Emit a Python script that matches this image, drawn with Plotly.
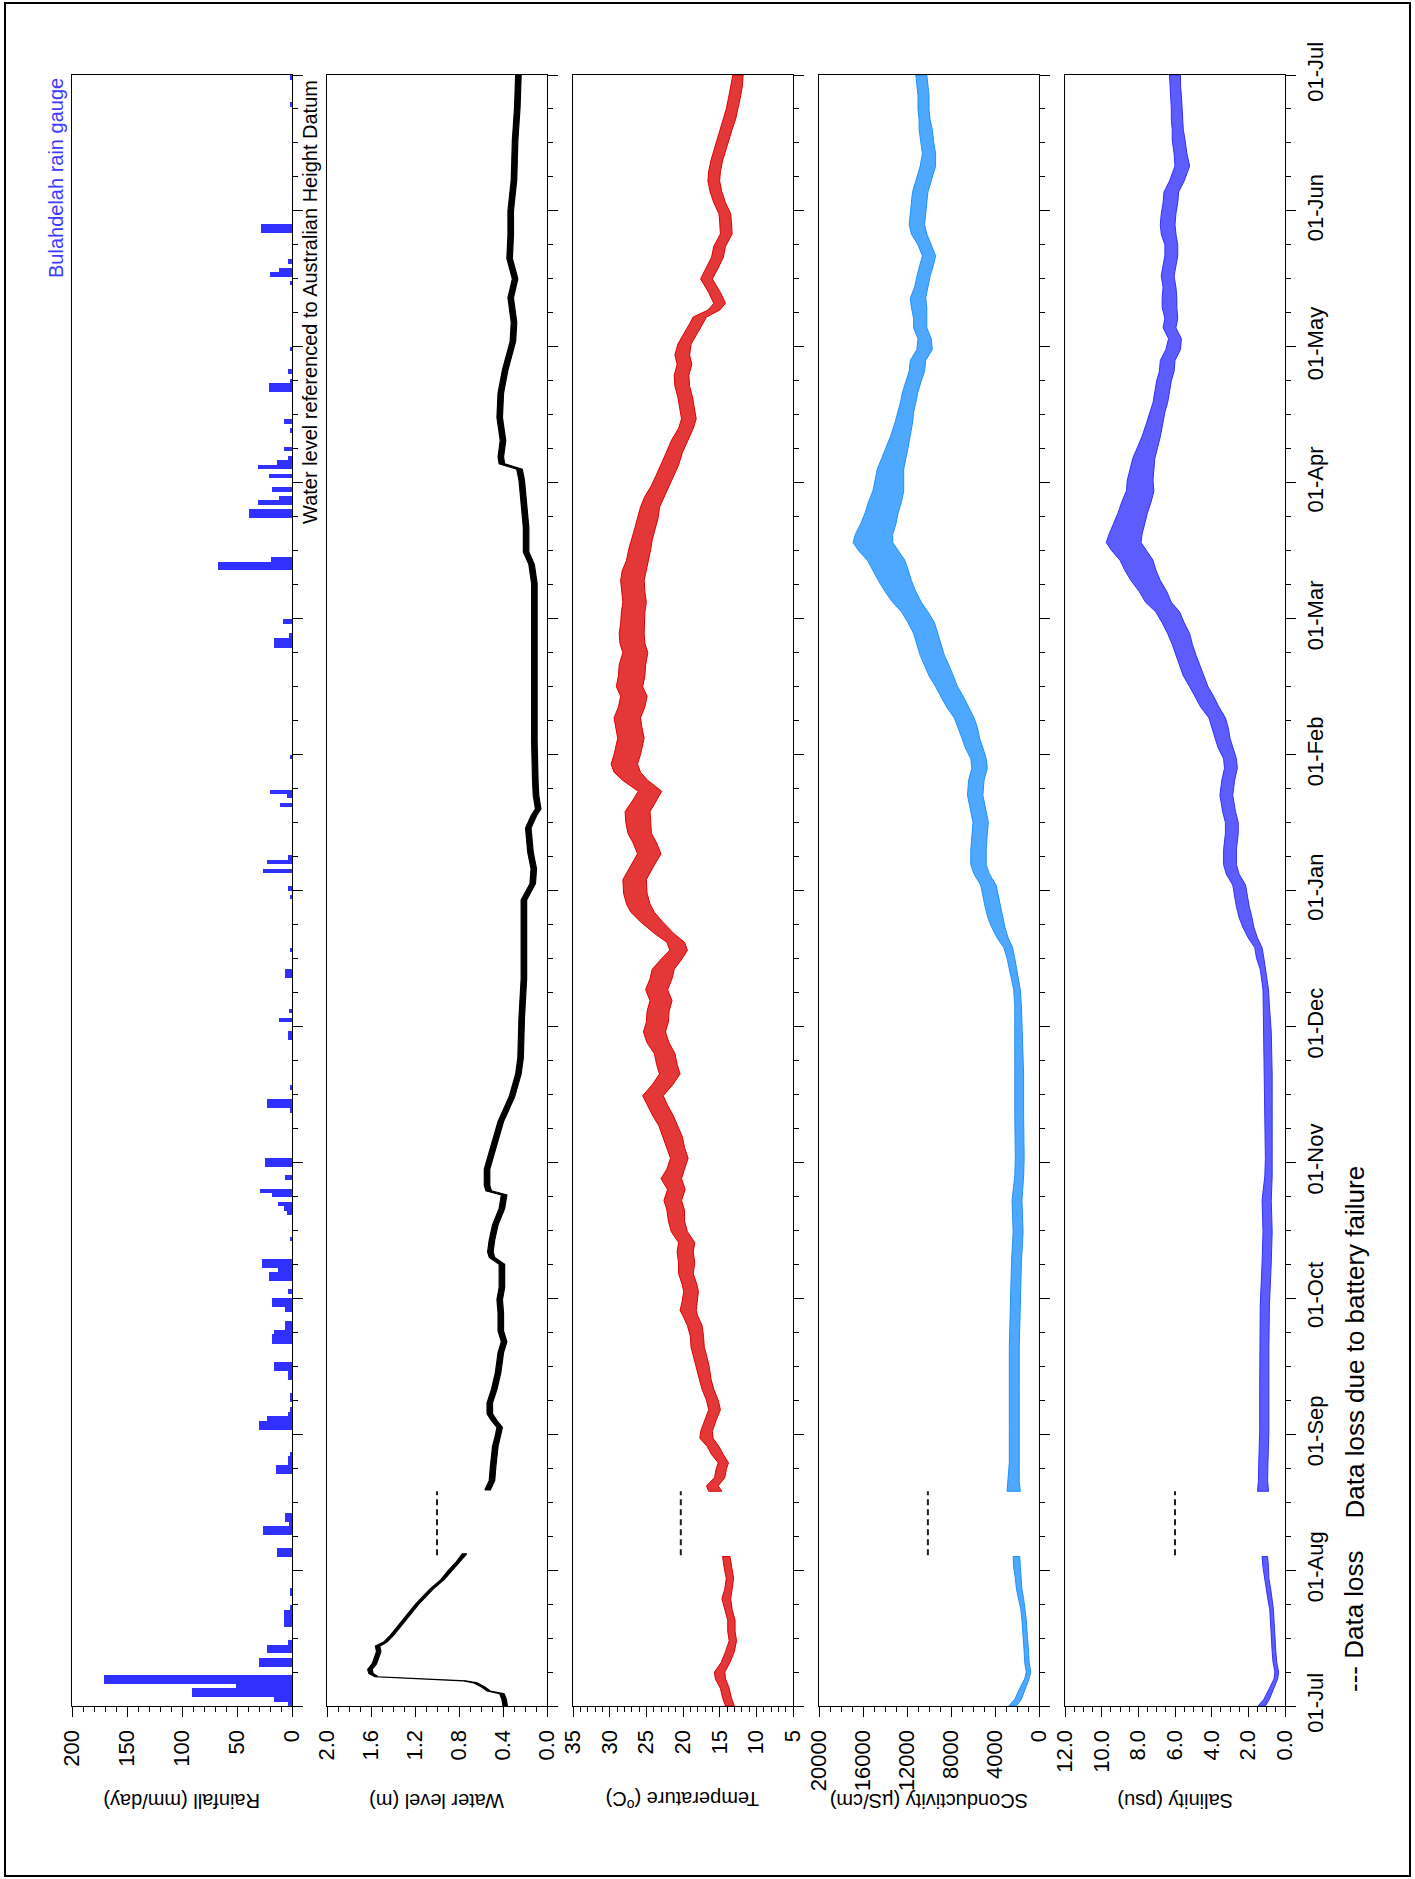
import calendar
import plotly.graph_objects as go

W, H = 1415, 1879

# ---------------- data ----------------
time_labels = ["01-Jul", "01-Aug", "01-Sep", "01-Oct", "01-Nov", "01-Dec", "01-Jan",
               "01-Feb", "01-Mar", "01-Apr", "01-May", "01-Jun", "01-Jul"]

rain_ticks = [200, 150, 100, 50, 0]
rain_labels = ["200", "150", "100", "50", "0"]
wl_ticks = [2.0, 1.6, 1.2, 0.8, 0.4, 0.0]
wl_labels = ["2.0", "1.6", "1.2", "0.8", "0.4", "0.0"]
temp_ticks = [35, 30, 25, 20, 15, 10, 5]
temp_labels = ["35", "30", "25", "20", "15", "10", "5"]
cond_ticks = [20000, 16000, 12000, 8000, 4000, 0]
cond_labels = ["20000", "16000", "12000", "8000", "4000", "0"]
sal_ticks = [12.0, 10.0, 8.0, 6.0, 4.0, 2.0, 0.0]
sal_labels = ["12.0", "10.0", "8.0", "6.0", "4.0", "2.0", "0.0"]

# daily rainfall, Bulahdelah rain gauge (mm/day)
rain_dates = [
    "2009-07-01", "2009-07-02", "2009-07-03", "2009-07-04", "2009-07-05", "2009-07-06", "2009-07-07",
    "2009-07-10", "2009-07-11", "2009-07-13", "2009-07-14", "2009-07-15", "2009-07-19", "2009-07-20",
    "2009-07-21", "2009-07-22", "2009-07-23", "2009-07-26", "2009-07-27",
    "2009-08-04", "2009-08-05", "2009-08-09", "2009-08-10", "2009-08-11", "2009-08-12", "2009-08-13",
    "2009-08-23", "2009-08-24", "2009-08-25", "2009-08-26", "2009-08-27",
    "2009-09-02", "2009-09-03", "2009-09-04", "2009-09-05", "2009-09-06", "2009-09-08", "2009-09-09",
    "2009-09-13", "2009-09-14", "2009-09-15", "2009-09-16", "2009-09-21", "2009-09-22", "2009-09-23",
    "2009-09-24", "2009-09-25", "2009-09-28", "2009-09-29", "2009-09-30",
    "2009-10-02", "2009-10-05", "2009-10-06", "2009-10-07", "2009-10-08", "2009-10-09", "2009-10-14",
    "2009-10-20", "2009-10-21", "2009-10-22", "2009-10-24", "2009-10-25", "2009-10-28", "2009-10-31",
    "2009-11-01", "2009-11-12", "2009-11-13", "2009-11-14", "2009-11-17", "2009-11-28", "2009-11-29",
    "2009-12-02", "2009-12-04", "2009-12-12", "2009-12-13", "2009-12-18", "2009-12-30",
    "2010-01-01", "2010-01-05", "2010-01-07", "2010-01-08", "2010-01-20", "2010-01-22", "2010-01-23",
    "2010-01-31",
    "2010-02-23", "2010-02-24", "2010-02-25", "2010-02-28",
    "2010-03-12", "2010-03-13", "2010-03-14", "2010-03-24", "2010-03-25", "2010-03-27", "2010-03-28",
    "2010-03-30",
    "2010-04-02", "2010-04-04", "2010-04-05", "2010-04-06", "2010-04-08", "2010-04-12", "2010-04-14",
    "2010-04-21", "2010-04-22", "2010-04-23", "2010-04-25", "2010-04-30",
    "2010-05-15", "2010-05-17", "2010-05-18", "2010-05-20", "2010-05-27", "2010-05-28",
    "2010-06-24", "2010-06-30",
]
rain_mm = [
    4, 16, 91, 91, 51, 171, 171,
    30, 30, 23, 23, 4, 7, 7,
    7, 7, 1.5, 1.5, 1.5,
    14, 14, 26, 26, 3, 6, 6,
    15, 15, 4, 4, 2,
    30, 30, 23, 4, 2, 2, 2,
    4, 4, 16, 16, 18, 18, 16,
    6, 6, 6, 18, 18,
    4, 21, 21, 13, 27, 27, 2,
    5, 7, 13, 18, 29, 6, 25,
    25, 2, 23, 23, 1.5, 4, 4,
    11.5, 3, 6, 6, 1.5, 1.5,
    4, 26, 23, 4, 10.6, 5, 20,
    1.5,
    16, 16, 2.4, 8,
    67, 67, 19, 39, 39, 31, 12,
    18,
    21, 31, 14, 4, 7, 2, 7.5,
    21, 21, 1.5, 4, 1.5,
    2, 20, 12, 4, 28, 28,
    1.5, 1.5,
]

# Continuous records: time in months from 01-Jul, centre value and half tidal range.
# None marks the data loss (battery failure).
wl_t = [0.00, 0.05, 0.09, 0.11, 0.14, 0.17, 0.185, 0.20, 0.215, 0.24, 0.27, 0.31, 0.36, 0.40,
        0.44, 0.47, 0.52, 0.60, 0.68, 0.75, 0.80, 0.86, 0.93, 1.00, 1.06, 1.12, None,
        1.59, 1.66, 1.76, 1.91, 1.99, 2.05, 2.10, 2.15, 2.23, 2.33, 2.45, 2.60, 2.68, 2.76,
        2.89, 2.99, 3.08, 3.25, 3.30, 3.34, 3.43, 3.54, 3.66, 3.76, 3.79, 3.83, 3.95, 4.13,
        4.30, 4.48, 4.65, 4.77, 5.06, 5.35, 5.64, 5.93, 6.05, 6.16, 6.28, 6.46, 6.55, 6.60,
        6.70, 6.80, 7.10, 7.39, 7.68, 7.97, 8.26, 8.40, 8.49, 8.67, 8.84, 9.02, 9.10, 9.14,
        9.19, 9.31, 9.48, 9.66, 9.83, 10.04, 10.18, 10.36, 10.50, 10.65, 10.82, 11.00, 11.23,
        11.52, 11.76, 12.00]
wl_c = [0.38, 0.39, 0.41, 0.53, 0.58, 0.65, 0.75, 1.20, 1.55, 1.60, 1.61, 1.57, 1.55, 1.53,
        1.54, 1.47, 1.41, 1.33, 1.25, 1.18, 1.12, 1.05, 0.95, 0.88, 0.81, 0.75, None,
        0.54, 0.50, 0.49, 0.47, 0.445, 0.43, 0.48, 0.52, 0.52, 0.48, 0.445, 0.42, 0.39, 0.42,
        0.42, 0.43, 0.41, 0.41, 0.50, 0.515, 0.50, 0.47, 0.41, 0.39, 0.53, 0.545, 0.545, 0.48,
        0.42, 0.32, 0.26, 0.24, 0.23, 0.21, 0.21, 0.21, 0.13, 0.12, 0.15, 0.17, 0.12, 0.08,
        0.10, 0.106, 0.115, 0.115, 0.12, 0.115, 0.115, 0.14, 0.19, 0.19, 0.21, 0.23, 0.25, 0.41,
        0.42, 0.40, 0.43, 0.42, 0.38, 0.31, 0.30, 0.33, 0.29, 0.34, 0.33, 0.33, 0.30,
        0.29, 0.27, 0.26]
wl_h = [0.02, 0.02, 0.02, 0.015, 0.015, 0.015, 0.01, 0.01, 0.015, 0.02, 0.02, 0.02, 0.02, 0.02,
        0.02, 0.015, 0.015, 0.015, 0.015, 0.015, 0.015, 0.015, 0.015, 0.015, 0.015, 0.02, None,
        0.025, 0.025, 0.025, 0.025, 0.025, 0.025, 0.025, 0.025, 0.025, 0.025, 0.025, 0.025, 0.025, 0.025,
        0.025, 0.025, 0.025, 0.025, 0.025, 0.025, 0.025, 0.025, 0.025, 0.025, 0.025, 0.025, 0.025, 0.025,
        0.025, 0.025, 0.025, 0.025, 0.025, 0.025, 0.025, 0.025, 0.025, 0.025, 0.025, 0.025, 0.025, 0.025,
        0.025, 0.025, 0.025, 0.025, 0.025, 0.025, 0.025, 0.025, 0.025, 0.025, 0.025, 0.025, 0.025, 0.025,
        0.025, 0.025, 0.025, 0.025, 0.025, 0.025, 0.025, 0.025, 0.025, 0.025, 0.025, 0.025, 0.025,
        0.025, 0.025, 0.025]

temp_t = [0.00, 0.06, 0.13, 0.20, 0.25, 0.32, 0.40, 0.48, 0.55, 0.63, 0.71, 0.79, 0.86, 0.94, 1.02, 1.10, None,
          1.58, 1.62, 1.68, 1.74, 1.79, 1.85, 1.91, 1.97, 2.02, 2.10, 2.18, 2.25, 2.33, 2.41, 2.49, 2.56,
          2.64, 2.72, 2.80, 2.87, 2.91, 2.98, 3.05, 3.10, 3.18, 3.26, 3.34, 3.41, 3.49, 3.57, 3.65, 3.72,
          3.80, 3.88, 3.95, 4.03, 4.11, 4.19, 4.27, 4.34, 4.42, 4.49, 4.57, 4.65, 4.72, 4.80, 4.88, 4.96,
          5.03, 5.11, 5.19, 5.27, 5.35, 5.42, 5.50, 5.56, 5.62, 5.68, 5.77, 5.84, 5.90, 5.98, 6.08, 6.17,
          6.27, 6.35, 6.42, 6.50, 6.58, 6.66, 6.73, 6.81, 6.87, 6.93, 7.00, 7.12, 7.20, 7.27, 7.35, 7.43,
          7.50, 7.58, 7.66, 7.75, 7.82, 7.89, 7.97, 8.05, 8.12, 8.20, 8.28, 8.35, 8.43, 8.51, 8.58, 8.66,
          8.74, 8.82, 8.90, 8.97, 9.05, 9.13, 9.22, 9.32, 9.40, 9.47, 9.55, 9.63, 9.71, 9.79, 9.87, 9.94,
          10.02, 10.10, 10.17, 10.22, 10.27, 10.32, 10.40, 10.50, 10.58, 10.66, 10.74, 10.83, 10.92,
          10.98, 11.06, 11.14, 11.22, 11.29, 11.37, 11.44, 11.52, 11.60, 11.68, 11.75, 11.83, 11.92, 12.00]
temp_c = [13.6, 14.0, 14.3, 14.9, 15.0, 14.2, 13.6, 13.2, 13.4, 13.4, 13.8, 14.1, 13.8, 13.6, 13.9, 14.1, None,
          15.6, 16.0, 15.0, 14.8, 14.5, 15.3, 15.9, 16.8, 16.8, 16.3, 15.7, 16.0, 16.6, 17.0, 17.3, 17.6,
          18.0, 18.1, 18.4, 19.0, 19.3, 19.1, 18.9, 19.1, 19.6, 19.5, 19.7, 19.5, 20.5, 20.9, 21.0, 21.4,
          20.9, 21.6, 21.0, 20.5, 21.0, 21.4, 22.0, 22.7, 23.5, 24.1, 22.8, 21.8, 22.2, 22.5, 23.4, 23.9,
          23.5, 23.4, 23.0, 23.6, 23.0, 22.7, 21.5, 20.6, 21.0, 22.5, 24.3, 25.5, 26.1, 26.5, 26.6, 25.7,
          24.6, 25.2, 25.9, 26.1, 26.2, 25.3, 24.5, 26.5, 27.6, 28.0, 27.6, 27.1, 27.4, 27.6, 27.0, 26.7,
          27.3, 27.0, 26.9, 26.5, 26.9, 27.0, 26.9, 26.8, 26.6, 26.8, 26.9, 26.7, 26.2, 25.9, 25.6, 25.2,
          24.8, 24.5, 23.9, 23.2, 22.5, 21.8, 21.2, 20.4, 19.6, 19.2, 19.4, 19.7, 20.1, 20.2, 19.8, 20.1,
          19.8, 18.9, 18.2, 17.7, 15.8, 15.0, 15.7, 16.8, 16.0, 15.3, 15.0, 14.1, 14.2,
          14.3, 15.0, 15.5, 15.8, 15.7, 15.4, 15.0, 14.6, 14.1, 13.6, 13.3, 13.0, 12.7, 12.5]
temp_h = [0.6, 0.6, 0.6, 0.7, 0.7, 0.6, 0.6, 0.5, 0.5, 0.5, 0.5, 0.6, 0.5, 0.5, 0.5, 0.5, None,
          0.9, 0.8, 0.7, 0.7, 0.7, 0.8, 0.8, 0.9, 0.8, 0.8, 0.8, 0.8, 0.8, 0.8, 0.9, 0.9,
          0.9, 0.9, 1.0, 1.0, 1.1, 1.0, 1.0, 1.0, 1.0, 1.1, 1.1, 1.1, 1.1, 1.1, 1.2, 1.2,
          1.2, 1.4, 1.2, 1.2, 1.2, 1.3, 1.3, 1.4, 1.4, 1.4, 1.4, 1.4, 1.4, 1.4, 1.5, 1.5,
          1.5, 1.5, 1.5, 1.5, 1.5, 1.5, 1.4, 1.2, 1.2, 1.3, 1.5, 1.6, 1.6, 1.6, 1.6, 1.6,
          1.6, 1.6, 1.6, 1.7, 1.7, 1.6, 1.6, 1.7, 1.8, 1.8, 1.8, 1.8, 1.8, 1.8, 1.8, 1.8,
          1.8, 1.8, 1.8, 1.7, 1.7, 1.7, 1.6, 1.6, 1.6, 1.6, 1.6, 1.6, 1.5, 1.5, 1.4, 1.4,
          1.4, 1.3, 1.3, 1.2, 1.2, 1.2, 1.1, 1.1, 1.0, 1.0, 1.0, 1.0, 1.0, 1.0, 1.0, 1.0,
          0.9, 0.9, 0.9, 0.9, 0.8, 0.8, 0.8, 0.8, 0.8, 0.8, 0.8, 0.8, 0.8,
          0.8, 0.8, 0.8, 0.8, 0.8, 0.8, 0.8, 0.8, 0.8, 0.8, 0.8, 0.8, 0.8, 0.7]

cs_t = [0.00, 0.05, 0.13, 0.20, 0.25, 0.32, 0.40, 0.48, 0.56, 0.63, 0.71, 0.79, 0.86, 0.94, 1.02, 1.10, None,
        1.58, 1.66, 1.79, 2.02, 2.33, 2.64, 2.95, 3.26, 3.49, 3.72, 3.90, 4.03, 4.34, 4.65, 4.96, 5.15,
        5.27, 5.42, 5.50, 5.58, 5.65, 5.73, 5.80, 5.88, 5.96, 6.04, 6.12, 6.19, 6.30, 6.42, 6.50, 6.58,
        6.70, 6.81, 6.90, 6.97, 7.05, 7.12, 7.20, 7.27, 7.35, 7.43, 7.50, 7.58, 7.66, 7.73, 7.81, 7.89,
        7.97, 8.05, 8.12, 8.20, 8.28, 8.36, 8.43, 8.50, 8.56, 8.62, 8.70, 8.78, 8.86, 8.94, 9.02, 9.10,
        9.18, 9.26, 9.34, 9.44, 9.52, 9.59, 9.67, 9.75, 9.82, 9.90, 9.98, 10.06, 10.14, 10.21, 10.29,
        10.36, 10.44, 10.52, 10.60, 10.67, 10.75, 10.83, 10.90, 10.98, 11.06, 11.14, 11.22, 11.33,
        11.42, 11.52, 11.60, 11.67, 11.75, 11.85, 11.92, 12.00]
cond_c = [2400, 1900, 1500, 1100, 950, 1100, 1150, 1200, 1300, 1350, 1450, 1650, 1800, 1900, 2000, 2050, None,
          2300, 2300, 2250, 2250, 2250, 2250, 2150, 2050, 1900, 2000, 1800, 1750, 1800, 1800, 1850, 1900,
          2000, 2350, 2550, 2800, 3300, 3700, 3950, 4200, 4400, 4600, 5200, 5500, 5500, 5400, 5300, 5500,
          5800, 5700, 5400, 5500, 5900, 6200, 6500, 6800, 7400, 7900, 8400, 8900, 9300, 9700, 10000, 10300,
          10700, 11300, 12000, 12600, 13100, 13500, 13900, 14600, 15100, 15000, 14600, 14300, 14000, 13700, 13600, 13500,
          13200, 12900, 12600, 12300, 12100, 11900, 11700, 11400, 11100, 11000, 10400, 10400, 10800, 10800, 10900,
          11000, 10700, 10500, 10200, 10000, 10400, 10900, 11100, 11000, 10900, 10800, 10500, 10100,
          10000, 10200, 10300, 10400, 10500, 10500, 10600, 10700]
cond_h = [350, 300, 250, 200, 200, 200, 200, 200, 200, 200, 200, 250, 250, 250, 300, 300, None,
          600, 500, 450, 450, 450, 450, 450, 450, 450, 450, 400, 400, 400, 400, 350, 300,
          300, 300, 350, 400, 500, 600, 700, 700, 700, 700, 700, 700, 700, 700, 700, 700,
          700, 700, 700, 700, 800, 800, 900, 900, 1000, 1000, 1000, 1100, 1100, 1100, 1100, 1100,
          1200, 1200, 1300, 1400, 1500, 1600, 1700, 1800, 1800, 1700, 1600, 1500, 1500, 1400, 1300, 1200,
          1100, 1000, 900, 800, 700, 700, 700, 700, 700, 700, 700, 600, 600, 600, 700,
          700, 600, 600, 600, 600, 600, 700, 700, 700, 700, 700, 700, 700,
          600, 600, 600, 500, 500, 500, 500, 500]
sal_c = [1.27, 1.0, 0.73, 0.50, 0.45, 0.55, 0.60, 0.64, 0.68, 0.70, 0.73, 0.82, 0.90, 1.00, 1.05, 1.10, None,
         1.20, 1.20, 1.18, 1.13, 1.13, 1.13, 1.10, 1.00, 0.95, 1.00, 0.90, 0.87, 0.90, 0.90, 0.95, 1.00,
         1.05, 1.20, 1.35, 1.45, 1.75, 2.00, 2.15, 2.30, 2.40, 2.50, 2.85, 3.00, 3.00, 2.90, 2.90, 3.05,
         3.20, 3.10, 2.95, 3.00, 3.25, 3.40, 3.55, 3.70, 4.10, 4.40, 4.70, 5.00, 5.20, 5.40, 5.60, 5.80,
         6.10, 6.40, 6.90, 7.20, 7.60, 7.90, 8.10, 8.50, 8.80, 8.70, 8.50, 8.30, 8.10, 7.90, 7.90, 7.80,
         7.70, 7.50, 7.30, 7.10, 6.95, 6.80, 6.70, 6.60, 6.45, 6.40, 6.10, 6.00, 6.30, 6.20, 6.30,
         6.30, 6.30, 6.40, 6.30, 6.20, 6.20, 6.35, 6.40, 6.35, 6.25, 6.20, 5.90, 5.60,
         5.70, 5.80, 5.85, 5.90, 5.90, 5.95, 6.00, 6.00]
sal_h = [0.2, 0.15, 0.12, 0.1, 0.1, 0.1, 0.1, 0.1, 0.1, 0.1, 0.1, 0.12, 0.12, 0.12, 0.15, 0.15, None,
         0.3, 0.25, 0.25, 0.25, 0.25, 0.25, 0.25, 0.25, 0.25, 0.25, 0.2, 0.2, 0.2, 0.2, 0.2, 0.15,
         0.15, 0.15, 0.2, 0.2, 0.25, 0.3, 0.35, 0.35, 0.35, 0.35, 0.35, 0.35, 0.35, 0.35, 0.35, 0.35,
         0.35, 0.35, 0.35, 0.35, 0.4, 0.4, 0.45, 0.45, 0.5, 0.5, 0.5, 0.55, 0.55, 0.55, 0.55, 0.6,
         0.6, 0.65, 0.7, 0.75, 0.8, 0.85, 0.9, 0.95, 0.95, 0.9, 0.85, 0.8, 0.8, 0.75, 0.7, 0.65,
         0.6, 0.55, 0.5, 0.45, 0.4, 0.4, 0.4, 0.4, 0.4, 0.4, 0.4, 0.35, 0.35, 0.35, 0.4,
         0.4, 0.35, 0.35, 0.35, 0.35, 0.35, 0.4, 0.4, 0.4, 0.4, 0.4, 0.4, 0.4,
         0.35, 0.35, 0.3, 0.3, 0.3, 0.3, 0.3, 0.3]

# data-loss markers (time span in months, level drawn)
loss_span = [1.11, 1.58]
loss_level = {"wl": 1.0, "temp": 20.3, "cond": 10100, "sal": 6.0}

# ---------------- helpers ----------------
def month_pos(date_str):
    y, m, d = (int(v) for v in date_str.split("-"))
    idx = (y - 2009) * 12 + (m - 7)
    dim = calendar.monthrange(y, m)[1]
    return idx + (d - 0.5) / dim, 1.0 / dim


def segments(t, c, h):
    segs, cur = [], []
    for ti, ci, hi in zip(t, c, h):
        if ti is None:
            if cur:
                segs.append(cur)
            cur = []
        else:
            cur.append((ti, ci, hi))
    if cur:
        segs.append(cur)
    return segs


def band(t, c, h, color, fill, xa, ya, lw):
    """Tidal envelope of a record drawn as a filled band with a thin outline."""
    out = []
    for seg in segments(t, c, h):
        ts = [s[0] for s in seg]
        lo = [s[1] - s[2] for s in seg]
        hi = [s[1] + s[2] for s in seg]
        out.append(go.Scatter(x=hi + lo[::-1] + [hi[0]], y=ts + ts[::-1] + [ts[0]], mode="lines",
                              fill="toself", fillcolor=fill, line=dict(color=color, width=lw),
                              xaxis=xa, yaxis=ya, hoverinfo="skip", showlegend=False))
    return out


BLUE = "rgb(48,48,255)"
LBLUE = "rgb(30,144,255)"
RED = "rgb(220,0,0)"
BLACK = "rgb(0,0,0)"

fig = go.Figure()

# rainfall bars
pos, wid = zip(*[month_pos(d) for d in rain_dates])
fig.add_trace(go.Bar(x=rain_mm, y=list(pos), width=list(wid), orientation="h",
                     marker=dict(color=BLUE, line=dict(width=0)), xaxis="x", yaxis="y",
                     hoverinfo="skip", showlegend=False))

for tr in band(wl_t, wl_c, wl_h, BLACK, BLACK, "x2", "y2", 1.2):
    fig.add_trace(tr)
for tr in band(temp_t, temp_c, temp_h, RED, "rgba(220,0,0,0.78)", "x3", "y3", 1.0):
    fig.add_trace(tr)
for tr in band(cs_t, cond_c, cond_h, LBLUE, "rgba(30,144,255,0.78)", "x4", "y4", 1.0):
    fig.add_trace(tr)
for tr in band(cs_t, sal_c, sal_h, BLUE, "rgba(48,48,255,0.78)", "x5", "y5", 1.0):
    fig.add_trace(tr)

for key, xa, ya in [("wl", "x2", "y2"), ("temp", "x3", "y3"), ("cond", "x4", "y4"), ("sal", "x5", "y5")]:
    v = loss_level[key]
    fig.add_trace(go.Scatter(x=[v, v], y=loss_span, mode="lines",
                             line=dict(color="rgb(30,30,30)", width=2, dash="6px,4px"),
                             xaxis=xa, yaxis=ya, hoverinfo="skip", showlegend=False))

# ---------------- layout ----------------
panel_px = [(72, 292), (327, 547), (573, 793), (819, 1039), (1065, 1285)]
top_px, bot_px = 75, 1706
ydom = [1 - bot_px / H, 1 - top_px / H]

value_axes = [
    ([200, 0], rain_ticks, rain_labels, 10, "Rainfall (mm/day)"),
    ([2.0, 0.0], wl_ticks, wl_labels, 0.1, "Water level (m)"),
    ([35, 5], temp_ticks, temp_labels, 1, "Temperature (<sup>o</sup>C)"),
    ([20000, 0], cond_ticks, cond_labels, 1000, "SConductivity (\u00b5S/cm)"),
    ([12.0, 0.0], sal_ticks, sal_labels, 0.5, "Salinity (psu)"),
]

SANS = "Liberation Sans, Arial, sans-serif"
TICKFONT = dict(family=SANS, size=22, color="black")

layout = dict(width=W, height=H, margin=dict(l=0, r=0, t=0, b=0, pad=0, autoexpand=False),
              paper_bgcolor="white", plot_bgcolor="white", bargap=0, showlegend=False,
              font=dict(family=SANS, color="black"))
annotations = []
for i, ((x0, x1), (rng, tv, tt, mdt, title)) in enumerate(zip(panel_px, value_axes)):
    n = "" if i == 0 else str(i + 1)
    layout["xaxis" + n] = dict(
        domain=[x0 / W, x1 / W], range=rng, anchor="y" + n, side="bottom",
        tickmode="array", tickvals=tv, ticktext=tt, tickangle=-90, tickfont=TICKFONT,
        ticklabelstandoff=4,
        ticks="outside", ticklen=10, tickwidth=1.2, tickcolor="black",
        minor=dict(ticks="outside", ticklen=5, tickwidth=1, tickcolor="black", dtick=mdt, tick0=0, showgrid=False),
        showline=True, linewidth=1.3, linecolor="black", mirror=True, automargin=False,
        showgrid=False, zeroline=False, fixedrange=True)
    layout["yaxis" + n] = dict(
        domain=ydom, range=[0, 12], anchor="x" + n, side="right",
        tickmode="array", tickvals=list(range(13)), ticktext=time_labels,
        showticklabels=(i == 4), tickangle=-90,
        tickfont=dict(family=SANS, size=22, color="black"),
        ticks="outside", ticklen=10, tickwidth=1.2, tickcolor="black",
        minor=dict(ticks="outside", ticklen=5, tickwidth=1, tickcolor="black", dtick=0.25, tick0=0, showgrid=False),
        showline=True, linewidth=1.3, linecolor="black", mirror=True, automargin=False,
        showgrid=False, zeroline=False, fixedrange=True)
    annotations.append(dict(text=title, x=(x0 + x1) / 2 / W, y=1 - 1801 / H, xref="paper", yref="paper",
                            xanchor="center", yanchor="middle", textangle=180, showarrow=False,
                            font=dict(family=SANS, size=20, color="black")))

annotations += [
    dict(text="Bulahdelah rain gauge", x=56 / W, y=1 - 76 / H, xref="paper", yref="paper",
         xanchor="center", yanchor="top", textangle=-90, showarrow=False,
         font=dict(family=SANS, size=20, color="rgb(60,60,255)")),
    dict(text="Water level referenced to Australian Height Datum", x=310 / W, y=1 - 78 / H,
         xref="paper", yref="paper", xanchor="center", yanchor="top", textangle=-90, showarrow=False,
         font=dict(family=SANS, size=20, color="black")),
    dict(text="--- Data loss", x=1354 / W, y=1 - 1694 / H, xref="paper", yref="paper",
         xanchor="center", yanchor="bottom", textangle=-90, showarrow=False,
         font=dict(family=SANS, size=26, color="black")),
    dict(text="Data loss due to battery failure", x=1354 / W, y=1 - 1521 / H, xref="paper", yref="paper",
         xanchor="center", yanchor="bottom", textangle=-90, showarrow=False,
         font=dict(family=SANS, size=26, color="black")),
]
layout["annotations"] = annotations
layout["shapes"] = [dict(type="rect", xref="paper", yref="paper", x0=5 / W, x1=1410 / W,
                         y0=1 - 1876 / H, y1=1 - 3 / H, line=dict(color="black", width=2))]

fig.update_layout(**layout)
fig.write_html("out.html", config={"displayModeBar": False},
               post_script="document.body.style.margin='0px';document.body.style.padding='0px';")
